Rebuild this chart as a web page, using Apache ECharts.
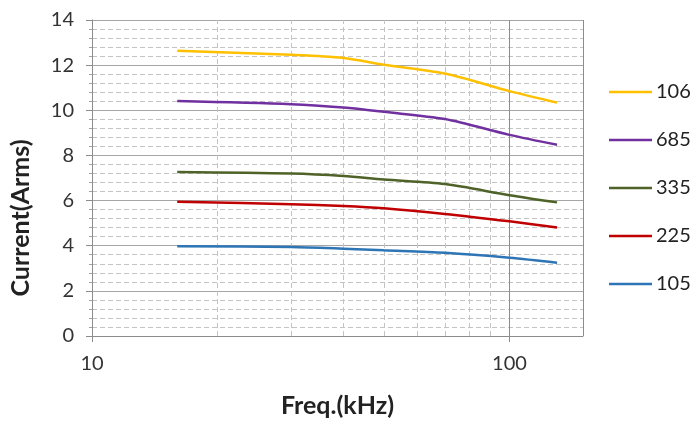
<!DOCTYPE html>
<html>
<head>
<meta charset="utf-8">
<script src="https://cdn.jsdelivr.net/npm/echarts@6/dist/echarts.min.js"></script>
<style>html,body{margin:0;padding:0;background:#fff}#c{width:693px;height:423px}</style>
</head>
<body>
<div id="c"></div>
<script>
var freqs = [16, 30, 40, 50, 70, 100, 130];
var seriesNames = ['106', '685', '335', '225', '105'];
var s106 = [12.64, 12.46, 12.32, 12.02, 11.63, 10.85, 10.34];
var s685 = [10.41, 10.27, 10.12, 9.93, 9.61, 8.91, 8.47];
var s335 = [7.27, 7.20, 7.09, 6.93, 6.73, 6.24, 5.92];
var s225 = [5.95, 5.84, 5.76, 5.66, 5.41, 5.08, 4.81];
var s105 = [3.98, 3.94, 3.87, 3.80, 3.69, 3.47, 3.25];
var minorFreqs = [20, 30, 40, 50, 60, 70, 80, 90];
var yTicks = [0, 2, 4, 6, 8, 10, 12, 14];

var colors = ['#FFC000', '#7030A0', '#4F6228', '#C00000', '#2E75B6'];
var values = [s106, s685, s335, s225, s105];
var font = 'Lato, "Liberation Sans", sans-serif';

function pairs(v) { return freqs.map(function (f, i) { return [f, v[i]]; }); }

var series = seriesNames.map(function (n, i) {
  var s = {
    name: n, type: 'line', data: pairs(values[i]), smooth: 0.3,
    showSymbol: false, symbol: 'none',
    lineStyle: { color: colors[i], width: 2.5 }, itemStyle: { color: colors[i] },
    z: 5
  };
  if (i === 0) {
    s.markLine = {
      silent: true, symbol: 'none', animation: false, z: 1,
      label: { show: false },
      lineStyle: { type: [5, 3], color: '#c4c4c4', width: 1 },
      data: minorFreqs.map(function (f) { return { xAxis: f }; })
    };
  }
  return s;
});

var chart = echarts.init(document.getElementById('c'));
chart.setOption({
  animation: false,
  backgroundColor: '#fff',
  grid: { left: 92, right: 110, top: 20, bottom: 84, containLabel: false },
  legend: {
    orient: 'vertical', left: 604, top: 77,
    icon: 'rect', itemWidth: 43, itemHeight: 2.5, itemGap: 28,
    textStyle: { fontFamily: font, fontSize: 20, color: '#222', padding: [0, 0, 0, -1] },
    data: seriesNames
  },
  xAxis: {
    type: 'log', logBase: 10, min: 10, max: 150,
    name: 'Freq.(kHz)', nameLocation: 'middle', nameGap: 57,
    nameTextStyle: { fontFamily: font, fontSize: 25, fontWeight: 'bold', color: '#222' },
    axisLine: { show: true, lineStyle: { color: '#8c8c8c' } },
    axisTick: { show: true, length: 6, lineStyle: { color: '#8c8c8c' } },
    axisLabel: { fontFamily: font, fontSize: 20, color: '#333', margin: 18, showMaxLabel: false },
    splitLine: { show: true, lineStyle: { color: '#8c8c8c', width: 1 } }
  },
  yAxis: {
    type: 'value', min: 0, max: 14, interval: 2,
    name: 'Current(Arms)', nameLocation: 'middle', nameGap: 59,
    nameTextStyle: { fontFamily: font, fontSize: 25, fontWeight: 'bold', color: '#222', padding: [0, 80, 0, 0] },
    axisLine: { show: true, lineStyle: { color: '#8c8c8c' } },
    axisTick: { show: true, length: 6, lineStyle: { color: '#8c8c8c' } },
    minorTick: { show: true, splitNumber: 5, length: 3, lineStyle: { color: '#a0a0a0' } },
    axisLabel: { fontFamily: font, fontSize: 20, color: '#333', margin: 18,
      formatter: function (v) { return yTicks.indexOf(v) >= 0 ? String(v) : ''; } },
    splitLine: { show: true, lineStyle: { color: '#a6a6a6', width: 1 } },
    minorSplitLine: { show: true, lineStyle: { color: '#c4c4c4', type: [5, 3], width: 1 } }
  },
  series: series
});
</script>
</body>
</html>
